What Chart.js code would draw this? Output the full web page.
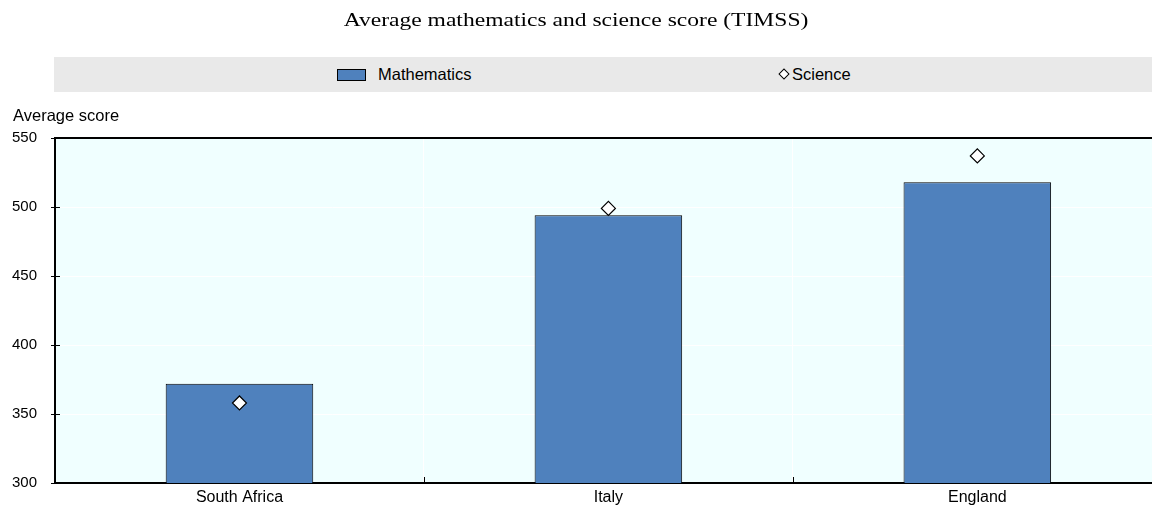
<!DOCTYPE html>
<html>
<head>
<meta charset="utf-8">
<script src="https://cdn.jsdelivr.net/npm/chart.js@4.4.1/dist/chart.umd.min.js"></script>
<style>
    body { margin: 0; background: #fff; overflow: hidden; }
    #wrap { position: relative; width: 1152px; height: 511px; overflow: hidden; font-family: "Liberation Sans", Arial, sans-serif; }
    #chart { position: absolute; left: 0; top: 0; }
    .title { position: absolute; left: 0; width: 1152px; top: 9px; text-align: center; font-family: "Liberation Serif", "Times New Roman", serif; font-size: 19px; line-height: 22px; color: #000; transform: scaleX(1.24); transform-origin: 576px 0; }
    .band { position: absolute; left: 54px; top: 57px; width: 1098px; height: 35px; background: #e9e9e9; }
    .swatch { position: absolute; left: 337px; top: 69px; width: 27px; height: 10px; background: #4f81bd; border: 1px solid #000; }
    .diamond { position: absolute; left: 780px; top: 70px; width: 6px; height: 6px; background: #fff; border: 1px solid #000; transform: rotate(45deg); }
    .lab { position: absolute; font-size: 16.5px; color: #000; line-height: 18px; }
</style>
</head>
<body>
<div id="wrap">
    <canvas id="chart" width="1170" height="511"></canvas>
    <div class="title">Average mathematics and science score (TIMSS)</div>
    <div class="band"></div>
    <div class="swatch"></div>
    <div class="lab" style="left:378px; top:65px;">Mathematics</div>
    <div class="diamond"></div>
    <div class="lab" style="left:792px; top:65px;">Science</div>
    <div class="lab" style="left:13px; top:106px;">Average score</div>
</div>
<script>
// Data
const countries = ['South Africa', 'Italy', 'England'];
const mathScores = [372, 494, 518];
const scienceScores = [358, 499, 537];
const yTicks = [300, 350, 400, 450, 500, 550];

// Draws the background, top frame line and the small inward tick marks
const frame = {
    id: 'frame',
    beforeDraw(chart) {
        const { ctx, chartArea: a } = chart;
        ctx.save();
        ctx.fillStyle = '#f0ffff';
        ctx.fillRect(a.left, a.top, a.right - a.left, a.bottom - a.top);
        ctx.restore();
    },
    afterDatasetsDraw(chart) {
        const { ctx, chartArea: a, scales } = chart;
        ctx.save();
        ctx.strokeStyle = '#000';
        ctx.lineWidth = 2;
        ctx.beginPath();
        ctx.moveTo(a.left, a.top);
        ctx.lineTo(a.right, a.top);
        ctx.stroke();
        ctx.lineWidth = 1;
        ctx.beginPath();
        // y ticks crossing into the plot
        yTicks.forEach(v => {
            const y = Math.round(scales.y.getPixelForValue(v)) + 0.5;
            ctx.moveTo(a.left, y);
            ctx.lineTo(a.left + 5, y);
        });
        // x ticks at category boundaries
        for (let i = 1; i < countries.length; i++) {
            const x = Math.round((scales.x.getPixelForValue(i - 1) + scales.x.getPixelForValue(i)) / 2) + 0.5;
            ctx.moveTo(x, a.bottom);
            ctx.lineTo(x, a.bottom - 6);
        }
        ctx.stroke();
        ctx.restore();
    }
};

new Chart(document.getElementById('chart'), {
    type: 'bar',
    data: {
        labels: countries,
        datasets: [{
            label: 'Mathematics',
            data: mathScores,
            backgroundColor: '#4f81bd',
            borderColor: '#000',
            borderWidth: 1,
            categoryPercentage: 1,
            barPercentage: 0.4,
            order: 2
        }, {
            type: 'line',
            label: 'Science',
            data: scienceScores,
            showLine: false,
            pointStyle: 'rectRot',
            pointRadius: 7,
            pointBackgroundColor: '#fff',
            pointBorderColor: '#000',
            pointBorderWidth: 1.2,
            order: 1
        }]
    },
    options: {
        responsive: false,
        animation: false,
        events: [],
        layout: { padding: { top: 138, right: 5, left: 0, bottom: 0 } },
        plugins: {
            legend: { display: false },
            tooltip: { enabled: false }
        },
        scales: {
            x: {
                afterFit(scale) { scale.height = 28; },
                grid: { color: '#ffffff', offset: true, drawTicks: false },
                border: { color: '#000', width: 2 },
                ticks: {
                    color: '#000',
                    padding: 5,
                    font: { family: "'Liberation Sans', Arial, sans-serif", size: 16 }
                }
            },
            y: {
                min: 300,
                max: 550,
                afterFit(scale) { scale.width = 55; },
                afterBuildTicks(scale) { scale.ticks = yTicks.map(v => ({ value: v })); },
                grid: { color: '#ffffff', lineWidth: 1, tickColor: '#000', tickLength: 4 },
                border: { color: '#000', width: 2 },
                ticks: {
                    color: '#000',
                    padding: 14,
                    font: { family: "'Liberation Sans', Arial, sans-serif", size: 15 }
                }
            }
        }
    },
    plugins: [frame]
});
</script>
</body>
</html>
